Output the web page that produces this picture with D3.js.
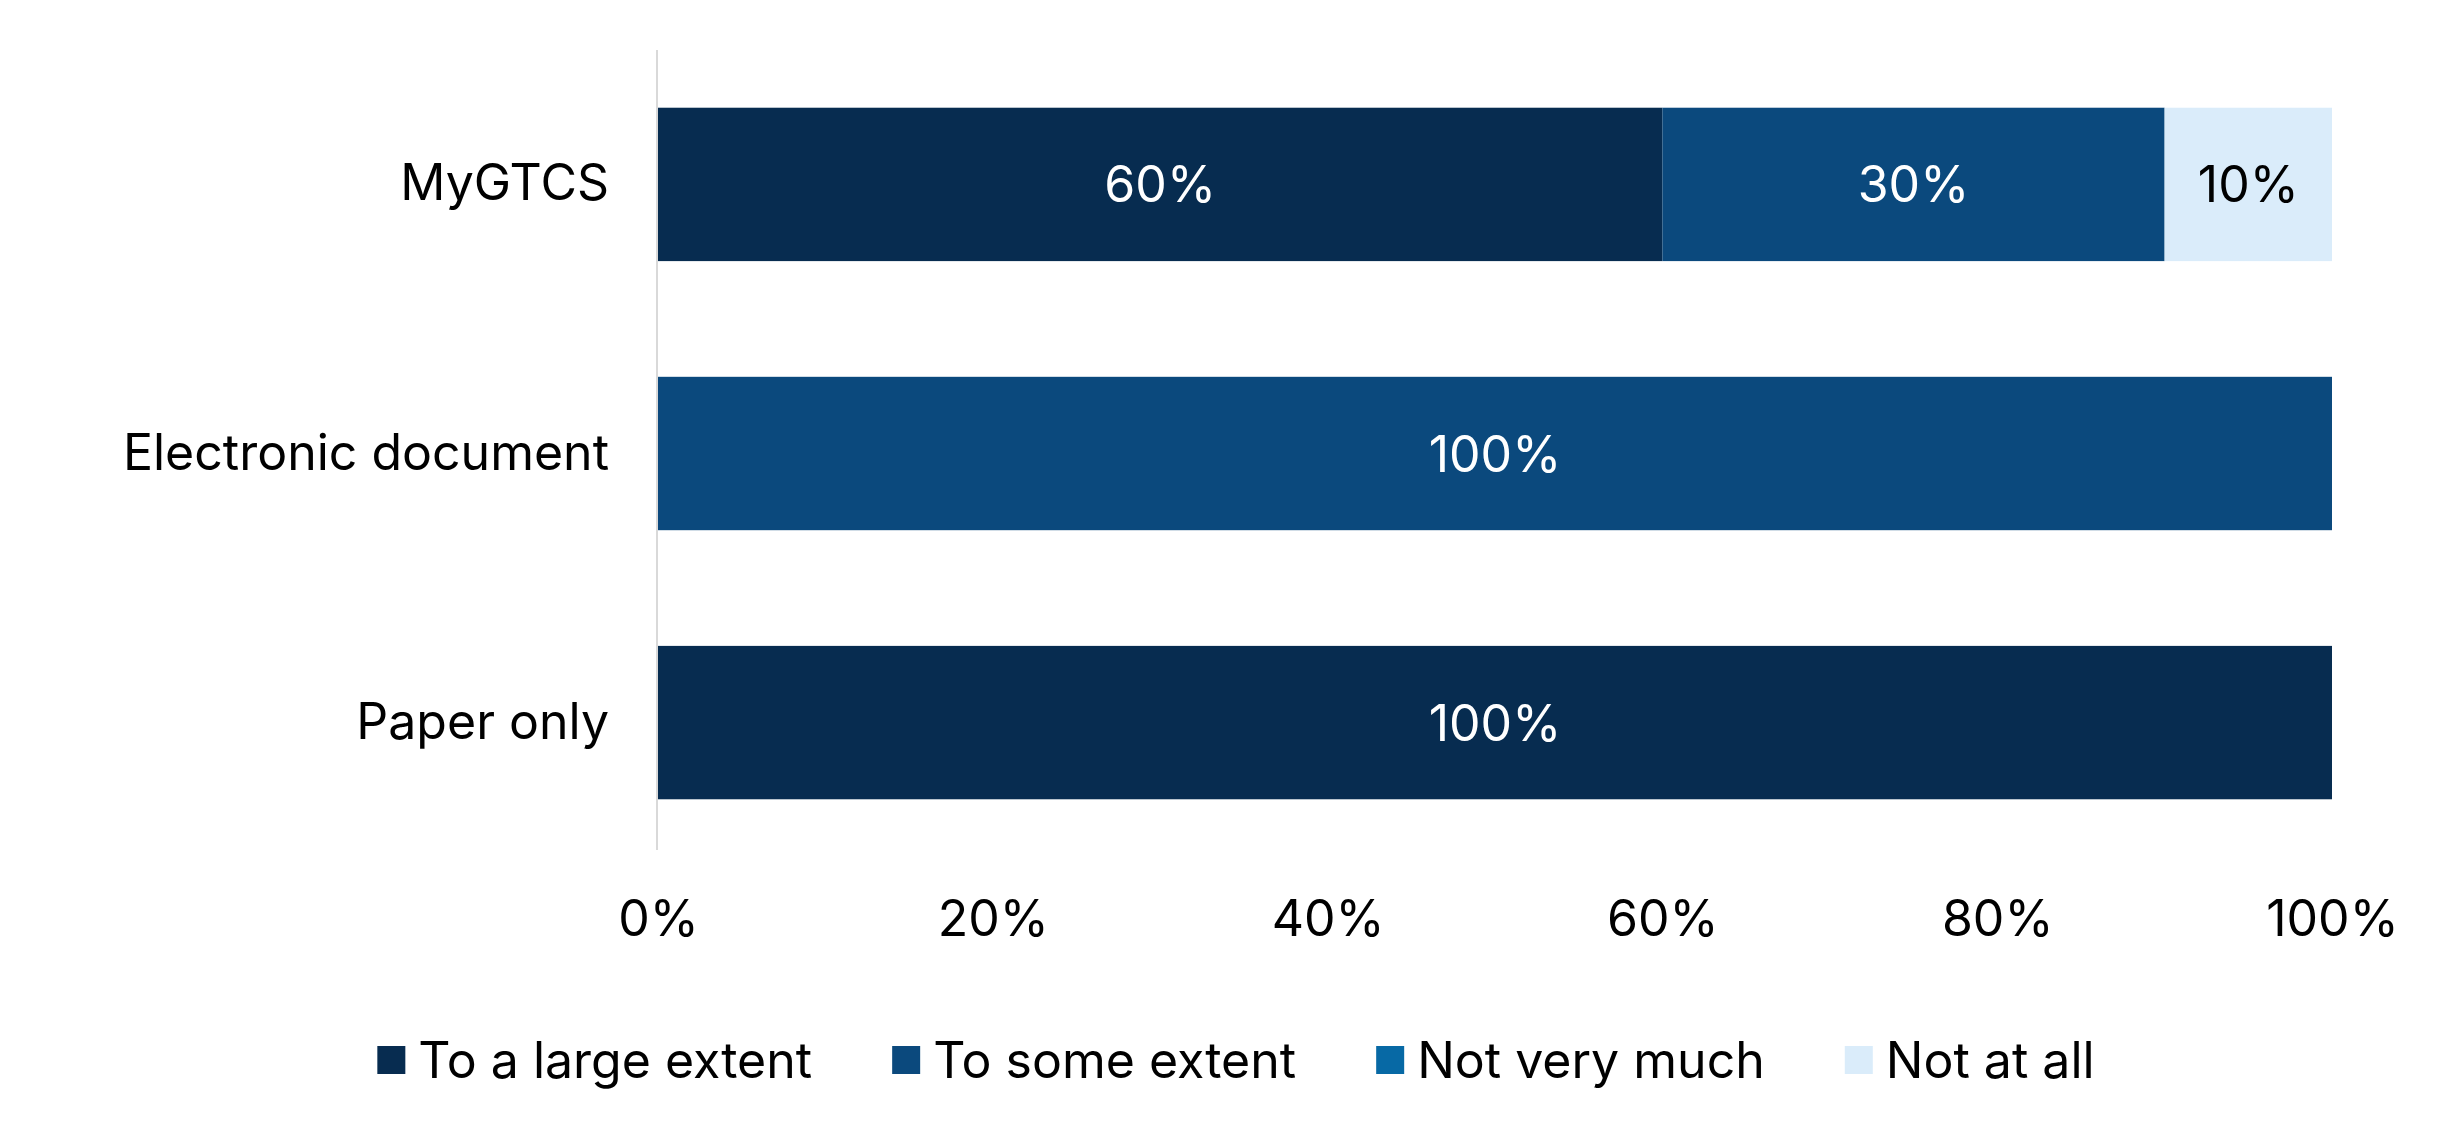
<!DOCTYPE html>
<html><head><meta charset="utf-8">
<script src="https://cdn.jsdelivr.net/npm/d3@7"></script>
<style>body{margin:0;background:#fff}svg{display:block}text{font-family:Inter,"Noto Sans",sans-serif}</style>
</head><body><svg id="c" width="2447" height="1148"></svg>
<script>
const categories = ["MyGTCS", "Electronic document", "Paper only"];
const seriesNames = ["To a large extent", "To some extent", "Not very much", "Not at all"];
const largeExtent = [0.60, 0.00, 1.00];
const someExtent  = [0.30, 1.00, 0.00];
const notVeryMuch = [0.00, 0.00, 0.00];
const notAtAll    = [0.10, 0.00, 0.00];
const tickValues = [0, 0.2, 0.4, 0.6, 0.8, 1.0];
const colors = ["#072C50", "#0B497D", "#0769A5", "#DAECFA"];
const labelColors = ["#fff", "#fff", "#fff", "#000"];

const rows = categories.map((c, i) => ({
  cat: c,
  "To a large extent": largeExtent[i],
  "To some extent": someExtent[i],
  "Not very much": notVeryMuch[i],
  "Not at all": notAtAll[i]
}));
const stacked = d3.stack().keys(seriesNames)(rows);

const svg = d3.select("#c");
const x = d3.scaleLinear().domain([0, 1]).range([658, 2332]);
const y = d3.scaleBand().domain(categories).range([50, 857]).paddingInner(0.43).paddingOuter(0.2145);
const FS = 50;

// bars
const g = svg.append("g");
stacked.forEach((s, si) => {
  const sg = g.append("g");
  sg.selectAll("rect").data(s.filter(d => d[1] - d[0] > 0)).join("rect")
    .attr("x", d => x(d[0])).attr("width", d => x(d[1]) - x(d[0]))
    .attr("y", d => y(d.data.cat)).attr("height", y.bandwidth())
    .attr("fill", colors[si]);
  sg.selectAll("text").data(s.filter(d => d[1] - d[0] > 0)).join("text")
    .attr("x", d => (x(d[0]) + x(d[1])) / 2)
    .attr("y", d => y(d.data.cat) + y.bandwidth() / 2)
    .attr("text-anchor", "middle").attr("dominant-baseline", "central")
    .attr("font-size", FS).attr("fill", labelColors[si])
    .text(d => Math.round((d[1] - d[0]) * 100) + "%");
});

// y axis
const ya = svg.append("g").attr("transform", `translate(${x(0) - 1},0)`)
  .call(d3.axisLeft(y).tickSize(0).tickPadding(48));
ya.select(".domain").attr("stroke", "#d9d9d9").attr("stroke-width", 2).attr("d", `M0,50V850`);
ya.selectAll("text").attr("font-size", FS).attr("fill", "#000").attr("font-family", "Inter");

// x axis
const xa = svg.append("g").attr("transform", `translate(0,850)`)
  .call(d3.axisBottom(x).tickValues(tickValues).tickFormat(d3.format(".0%")).tickSize(0).tickPadding(50));
xa.select(".domain").remove();
xa.selectAll("text").attr("font-size", FS).attr("fill", "#000").attr("font-family", "Inter");

// legend
const lg = svg.append("g");
const items = seriesNames.map((n, i) => ({ n, c: colors[i] }));
const tmp = lg.append("text").attr("font-size", FS);
const widths = items.map(it => { tmp.text(it.n); return tmp.node().getComputedTextLength(); });
tmp.remove();
const sq = 28, gapT = 13, gapI = 80;
const total = d3.sum(widths) + items.length * (sq + gapT) + (items.length - 1) * gapI;
let cx = 1236 - total / 2;
const ly = 1060;
items.forEach((it, i) => {
  lg.append("rect").attr("x", cx).attr("y", ly - sq / 2).attr("width", sq).attr("height", sq).attr("fill", it.c);
  lg.append("text").attr("x", cx + sq + gapT).attr("y", ly).attr("dominant-baseline", "central")
    .attr("font-size", FS).attr("fill", "#000").text(it.n);
  cx += sq + gapT + widths[i] + gapI;
});
</script></body></html>
